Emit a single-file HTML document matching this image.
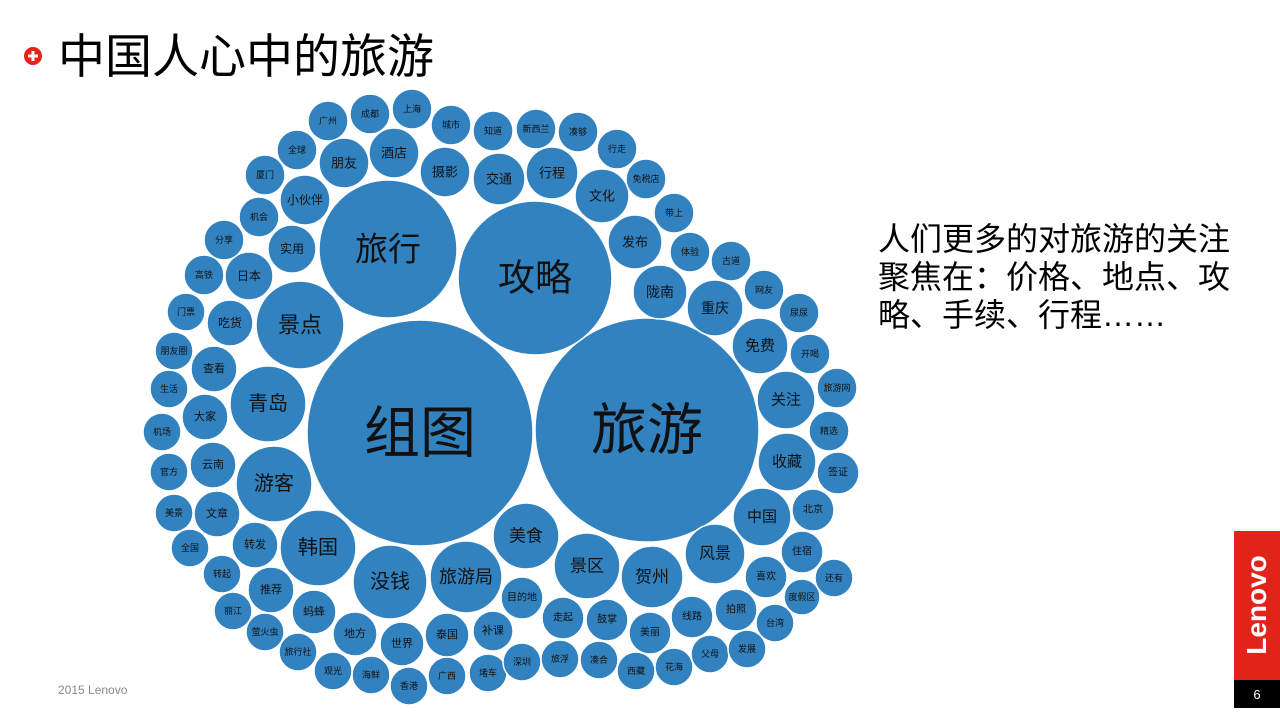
<!DOCTYPE html>
<html><head><meta charset="utf-8"><style>
body{margin:0;width:1280px;height:720px;background:#fff;overflow:hidden;position:relative;font-family:"Liberation Sans","Noto Sans CJK SC",sans-serif}
svg{position:absolute;left:0;top:0}
.t{position:absolute;left:878px;top:220px;font-size:32px;line-height:38px;color:#000;width:370px}
</style></head><body>
<svg width="1280" height="720" xmlns="http://www.w3.org/2000/svg" font-family="Liberation Sans, Noto Sans CJK SC, sans-serif">
<circle cx="33" cy="56" r="9" fill="#e2231a"/>
<rect x="28" y="54.5" width="10" height="3" fill="#fff"/><rect x="31.5" y="51" width="3" height="10" fill="#fff"/>
<text x="58" y="73" font-size="47" fill="#000">中国人心中的旅游</text>
<text x="58" y="694" font-size="12" fill="#888">2015 Lenovo</text>
<rect x="1234" y="531" width="46" height="149" fill="#e2231a"/>
<rect x="1234" y="680" width="46" height="28" fill="#000"/>
<text x="1257" y="699" font-size="13" fill="#fff" text-anchor="middle">6</text>
<text transform="translate(1266,605) rotate(-90)" font-size="28" fill="#fff" text-anchor="middle" font-weight="bold">Lenovo</text>
<g id="b" fill="#3282c0" stroke="#fff" stroke-width="1.5"></g>
<g id="l" fill="#111" text-anchor="middle" dominant-baseline="central"></g>
</svg>
<div class="t">人们更多的对旅游的关注聚焦在：价格、地点、攻略、手续、行程……</div>
<script>
var d=[["组图",420,433,113,56],["旅游",647,430,112,56],["攻略",535,278,77,37],["旅行",388,249,69,33],
["景点",300,325,44,22],["青岛",268,404,38,20],["游客",274,484,38,20],["韩国",318,548,38,20],["没钱",390,582,37,20],["旅游局",466,577,36,18],["美食",526,536,33,17],["景区",587,566,33,17],["贺州",652,577,31,17],["风景",715,554,30,16],["中国",762,517,29,15],["收藏",787,462,29,15],["关注",786,400,29,15],["免费",760,346,28,15],["重庆",715,308,28,14],["陇南",660,292,27,14],["发布",635,242,27,13],["文化",602,196,27,13],["行程",552,173,26,13],["交通",499,179,26,13],["摄影",445,172,25,13],["酒店",394,153,25,13],["朋友",344,163,25,13],["小伙伴",305,200,25,12],["实用",292,249,24,12],["日本",249,276,24,12],["吃货",230,323,23,12],["查看",214,369,23,11],["大家",205,417,23,11],["云南",213,465,23,11],["文章",217,514,23,11],["转发",255,545,23,11],["推荐",271,590,23,11],["蚂蜂",314,612,22,11],["地方",355,634,22,11],["世界",402,644,22,11],["泰国",447,635,22,11],["补课",493,631,20,11],["目的地",522,598,21,10],["走起",563,618,21,10],["鼓掌",607,620,21,10],["美丽",650,633,21,10],["线路",692,617,21,10],["拍照",736,610,21,10],["喜欢",766,577,21,10],["住宿",802,552,21,10],["北京",813,510,21,10],["签证",838,473,21,10],["精选",829,431,20,9],["旅游网",837,388,20,9],["开喝",810,354,20,9],["尿尿",799,313,20,9],["网友",764,290,20,9],["古道",731,261,20,9],["体验",690,252,20,9],["带上",674,213,20,9],["免税店",646,179,20,9],["行走",617,149,20,9],["凑够",578,132,20,9],["新西兰",536,129,20,9],["知道",493,131,20,9],["城市",451,125,20,9],["上海",412,109,20,9],["成都",370,114,20,9],["广州",328,121,20,9],["全球",297,150,20,9],["厦门",265,175,20,9],["机会",259,217,20,9],["分享",224,240,20,9],["高铁",204,275,20,9],["门票",186,312,19,9],["朋友圈",174,351,19,9],["生活",169,389,19,9],["机场",162,432,19,9],["官方",169,472,19,9],["美景",174,513,19,9],["全国",190,548,19,9],["转起",222,574,19,9],["丽江",233,611,19,9],["萤火虫",265,632,19,9],["旅行社",298,652,19,9],["观光",333,671,19,9],["海鲜",371,675,19,9],["香港",409,686,19,9],["广西",447,676,19,9],["堵车",488,673,19,9],["深圳",522,662,19,9],["旅浮",560,659,19,9],["凑合",599,660,19,9],["西藏",636,671,19,9],["花海",674,667,19,9],["父母",710,654,19,9],["发展",747,649,19,9],["台湾",775,623,19,9],["度假区",802,597,18,9],["还有",834,578,19,9]];
var ns="http://www.w3.org/2000/svg",b=document.getElementById("b"),l=document.getElementById("l");
d.forEach(function(e){var c=document.createElementNS(ns,"circle");c.setAttribute("cx",e[1]);c.setAttribute("cy",e[2]);c.setAttribute("r",e[3]);b.appendChild(c);
var t=document.createElementNS(ns,"text");t.setAttribute("x",e[1]);t.setAttribute("y",e[2]);t.setAttribute("font-size",e[4]);t.textContent=e[0];l.appendChild(t);});
</script>
</body></html>
